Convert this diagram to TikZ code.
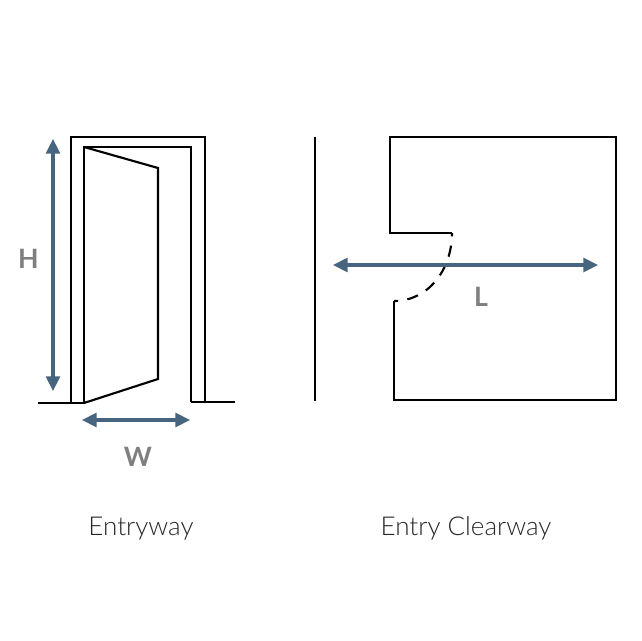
\documentclass[tikz,border=0pt]{standalone}
\usepackage{fontspec}
\setmainfont{Lato Light}
\newfontfamily\dimfont{Lato Bold}
\usetikzlibrary{arrows.meta, positioning}
\definecolor{dimblue}{HTML}{47657F}
\definecolor{dimgray}{HTML}{7F7F7F}
\tikzstyle{wall} = [draw=black, line width=1.6pt, line join=miter]
\tikzstyle{dimline} = [draw=dimblue, line width=2.3pt, {Triangle[length=11pt,width=10.5pt]}-{Triangle[length=11pt,width=10.5pt]}]
\tikzstyle{dimlabel} = [text=dimgray, font=\dimfont\fontsize{20}{20}\selectfont, inner sep=0pt]
\tikzstyle{caption} = [text=black!85, font=\fontsize{19.5}{19.5}\selectfont, inner sep=0pt]
\begin{document}
\begin{tikzpicture}[x=0.75pt,y=-0.75pt]
    \useasboundingbox (0,0) rectangle (641,641);
    % door
    \coordinate (outerl) at (71,403);
    \coordinate (outertl) at (71,137);
    \coordinate (outertr) at (205,137);
    \coordinate (outerr) at (205,402);
    \coordinate (innerl) at (84,403);
    \coordinate (innertl) at (84,147);
    \coordinate (innertr) at (191,147);
    \coordinate (innerr) at (191,402);
    \coordinate (floorl) at (38,403);
    \coordinate (floorr) at (235,402);
    \coordinate (leaftop) at (158,168);
    \coordinate (leafbot) at (158,379);
    \draw[wall] (outerl) -- (outertl) -- (outertr) -- (outerr);
    \draw[wall] (innerl) -- (innertl) -- (innertr) -- (innerr);
    \draw[wall] (floorl) -- (innerl);
    \draw[wall] (innerr) -- (floorr);
    \draw[wall] (innertl) -- (leaftop) -- (leafbot) -- (innerl);
    % room
    \coordinate (walltop) at (315,137);
    \coordinate (wallbot) at (315,401);
    \coordinate (rooma) at (452,233);
    \coordinate (roomb) at (390,233);
    \coordinate (roomc) at (390,137);
    \coordinate (roomd) at (616,137);
    \coordinate (roome) at (616,400);
    \coordinate (roomf) at (394,400);
    \coordinate (roomg) at (394,301);
    \draw[wall] (walltop) -- (wallbot);
    \draw[wall] (rooma) -- (roomb) -- (roomc) -- (roomd) -- (roome) -- (roomf) -- (roomg);
    \draw[wall, dash pattern=on 8.5pt off 7pt, dash phase=6pt] (rooma) .. controls (452,270) and (428,301) .. (roomg);
    % dimensions
    \coordinate (htop) at (53,139);
    \coordinate (hbot) at (53,391);
    \coordinate (wleft) at (82,420);
    \coordinate (wright) at (190,420);
    \coordinate (lleft) at (333,265);
    \coordinate (lright) at (598,265);
    \draw[dimline] (htop) -- (hbot);
    \draw[dimline] (wleft) -- (wright);
    \draw[dimline] (lleft) -- (lright);
    \node[dimlabel] (hlabel) at (28.5,259) {H};
    \node[dimlabel] (wlabel) at (138,457) {W};
    \node[dimlabel] (llabel) at (481,297) {L};
    \node[caption] (entryway) at (141,528.5) {Entryway};
    \node[caption] (clearway) at (466,528.5) {Entry Clearway};
\end{tikzpicture}
\end{document}
